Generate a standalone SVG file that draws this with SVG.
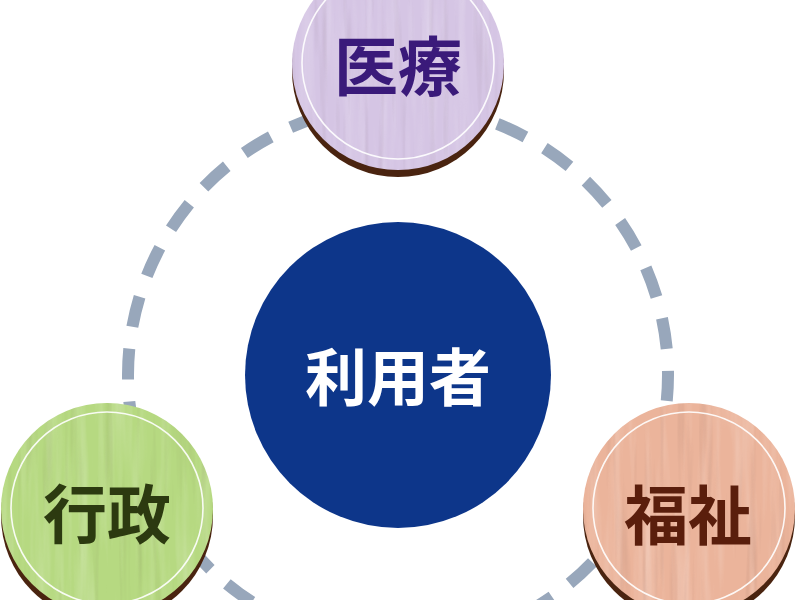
<svg xmlns="http://www.w3.org/2000/svg" width="800" height="600" viewBox="0 0 800 600">
  <defs>
    <filter id="grain" x="0" y="0" width="1" height="1" color-interpolation-filters="sRGB">
      <feTurbulence type="fractalNoise" baseFrequency="0.09 0.006" numOctaves="3" seed="7" result="n"/>
      <feColorMatrix in="n" type="matrix" values="0 0 0 0 1  0 0 0 0 1  0 0 0 0 1  1.6 0 0 0 -0.7" result="w"/>
      <feComposite in="w" in2="SourceAlpha" operator="in"/>
    </filter>
    <filter id="grainDark" x="0" y="0" width="1" height="1" color-interpolation-filters="sRGB">
      <feTurbulence type="fractalNoise" baseFrequency="0.14 0.008" numOctaves="2" seed="3" result="n"/>
      <feColorMatrix in="n" type="matrix" values="0 0 0 0 0.3  0 0 0 0 0.2  0 0 0 0 0.2  1.4 0 0 0 -0.75" result="w"/>
      <feComposite in="w" in2="SourceAlpha" operator="in"/>
    </filter>
  </defs>
  <style>
    .ring { fill: none; stroke: #98a7bb; stroke-width: 12; stroke-dasharray: 31 22.02; }
    .shadow { fill: #4a2410; }
    .inner { fill: none; stroke: #ffffff; stroke-width: 1.6; opacity: 0.9; }
    .grainL { filter: url(#grain); opacity: 0.3; }
    .grainD { filter: url(#grainDark); opacity: 0.18; }
    .lbl { font-family: "Noto Sans CJK JP", "Noto Sans CJK SC", sans-serif; font-weight: 700; font-size: 64px; text-anchor: middle; dominant-baseline: central; }
    .center { font-family: "Noto Sans CJK JP", "Noto Sans CJK SC", sans-serif; font-weight: 700; font-size: 62px; text-anchor: middle; dominant-baseline: central; fill: #ffffff; }
  </style>
  <rect width="800" height="600" fill="#ffffff"/>

  <g id="connectors">
    <circle class="ring" cx="398" cy="375" r="270" stroke-dashoffset="5"/>
  </g>

  <g id="user">
    <circle cx="398" cy="375" r="153" fill="#0d368a"/>
    <text class="center" x="398" y="374">利用者</text>
  </g>

  <g id="medical">
    <circle class="shadow" cx="398" cy="71" r="106"/>
    <circle cx="398" cy="64" r="106" fill="#d5c5e4"/>
    <circle class="grainL" cx="398" cy="64" r="106" fill="#fff"/>
    <circle class="grainD" cx="398" cy="64" r="106" fill="#fff"/>
    <circle class="inner" cx="398" cy="63" r="96"/>
    <text class="lbl" x="398" y="62" fill="#3a1a7a">医療</text>
  </g>

  <g id="admin">
    <circle class="shadow" cx="107" cy="516" r="106"/>
    <circle cx="107" cy="509" r="106" fill="#b6d981"/>
    <circle class="grainL" cx="107" cy="509" r="106" fill="#fff"/>
    <circle class="grainD" cx="107" cy="509" r="106" fill="#fff"/>
    <circle class="inner" cx="107" cy="508" r="96"/>
    <text class="lbl" x="107" y="510" fill="#2c3a10">行政</text>
  </g>

  <g id="welfare">
    <circle class="shadow" cx="689" cy="516" r="106"/>
    <circle cx="689" cy="509" r="106" fill="#ebb49b"/>
    <circle class="grainL" cx="689" cy="509" r="106" fill="#fff"/>
    <circle class="grainD" cx="689" cy="509" r="106" fill="#fff"/>
    <circle class="inner" cx="689" cy="508" r="96"/>
    <text class="lbl" x="688" y="511" fill="#5a1e0c">福祉</text>
  </g>
</svg>
